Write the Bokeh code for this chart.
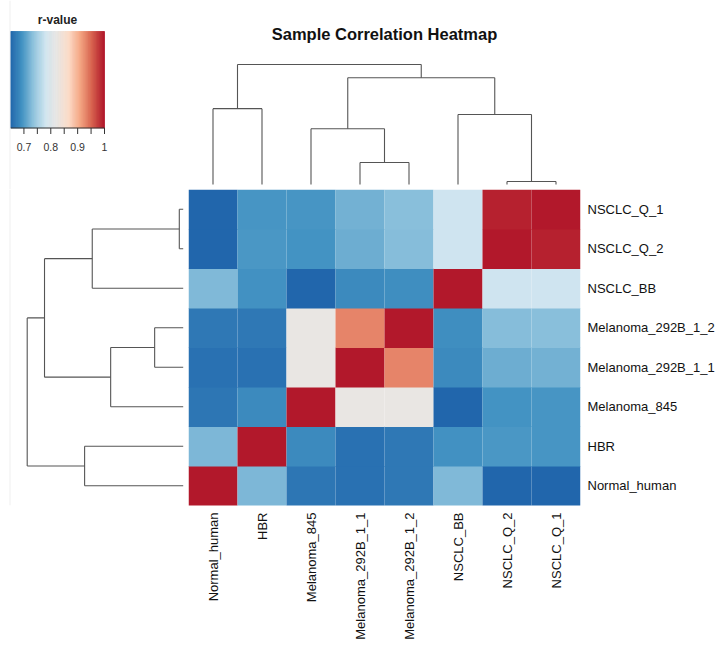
import numpy as np
from bokeh.plotting import figure
from bokeh.layouts import gridplot
from bokeh.models import Range1d, FactorRange, LinearColorMapper, ColumnDataSource
from bokeh.transform import transform
from bokeh.core.properties import value
from bokeh.embed import file_html
from bokeh.resources import INLINE

# ---------------- data ----------------
samples = ["Normal_human", "HBR", "Melanoma_845", "Melanoma_292B_1_1",
           "Melanoma_292B_1_2", "NSCLC_BB", "NSCLC_Q_2", "NSCLC_Q_1"]
# correlation (r) matrix, rows/cols in the order of `samples`
r_normal = [1.000, 0.726, 0.667, 0.661, 0.668, 0.728, 0.650, 0.650]
r_hbr    = [0.726, 1.000, 0.686, 0.661, 0.668, 0.693, 0.698, 0.697]
r_m845   = [0.667, 0.686, 1.000, 0.825, 0.825, 0.650, 0.694, 0.697]
r_m11    = [0.661, 0.661, 0.825, 1.000, 0.933, 0.686, 0.718, 0.721]
r_m12    = [0.668, 0.668, 0.825, 0.933, 1.000, 0.690, 0.732, 0.734]
r_bb     = [0.728, 0.693, 0.650, 0.686, 0.690, 1.000, 0.781, 0.781]
r_q2     = [0.650, 0.698, 0.694, 0.718, 0.732, 0.781, 1.000, 0.994]
r_q1     = [0.650, 0.697, 0.697, 0.721, 0.734, 0.781, 0.994, 1.000]
corr_rows = [r_normal, r_hbr, r_m845, r_m11, r_m12, r_bb, r_q2, r_q1]

col_order = ["Normal_human", "HBR", "Melanoma_845", "Melanoma_292B_1_1",
             "Melanoma_292B_1_2", "NSCLC_BB", "NSCLC_Q_2", "NSCLC_Q_1"]
row_order = ["NSCLC_Q_1", "NSCLC_Q_2", "NSCLC_BB", "Melanoma_292B_1_2",
             "Melanoma_292B_1_1", "Melanoma_845", "HBR", "Normal_human"]  # top -> bottom

# hierarchical clustering merges (left, right, height relative to root, name)
merge_left   = ["NSCLC_Q_1", "Melanoma_292B_1_1", "Melanoma_845", "NSCLC_BB", "Normal_human", "C", "E"]
merge_right  = ["NSCLC_Q_2", "Melanoma_292B_1_2", "B", "A", "HBR", "D", "F"]
merge_height = [0.025, 0.183, 0.465, 0.583, 0.632, 0.889, 1.000]
merge_name   = ["A", "B", "C", "D", "E", "F", "G"]

legend_low, legend_high = 0.65, 1.0
legend_ticks = [0.70, 0.75, 0.80, 0.85, 0.90, 0.95, 1.00]
legend_label_vals = [0.7, 0.8, 0.9, 1.0]
legend_labels = ["0.7", "0.8", "0.9", "1"]
anchors = ["#2166AC", "#4393C3", "#92C5DE", "#D1E5F0", "#E9E6E3",
           "#FDDBC7", "#F4A582", "#D6604D", "#B2182B"]

FONT = value("Liberation Sans")
LINE = "#555555"

# ---------------- palette ----------------
def hex2rgb(h):
    h = h.lstrip("#")
    return np.array([int(h[i:i + 2], 16) for i in (0, 2, 4)], dtype=float)

def ramp(cols, n):
    rgb = np.array([hex2rgb(c) for c in cols])
    t = np.linspace(0, len(cols) - 1, n)
    out = []
    for v in t:
        i = min(int(np.floor(v)), len(cols) - 2)
        f = v - i
        c = rgb[i] * (1 - f) + rgb[i + 1] * f
        out.append("#%02x%02x%02x" % tuple(int(round(x)) for x in c))
    return out

palette = ramp(anchors, 200)
mapper = LinearColorMapper(palette=palette, low=legend_low, high=legend_high)

# ---------------- dendrogram geometry ----------------
def dendro_segments(order_pos):
    pos = dict(order_pos)
    ht = {k: 0.0 for k in pos}
    p0, h0, p1, h1 = [], [], [], []
    for l, r, h, n in zip(merge_left, merge_right, merge_height, merge_name):
        for c in (l, r):
            p0.append(pos[c]); h0.append(ht[c]); p1.append(pos[c]); h1.append(h)
        p0.append(pos[l]); h0.append(h); p1.append(pos[r]); h1.append(h)
        pos[n] = (pos[l] + pos[r]) / 2.0
        ht[n] = h
    return p0, h0, p1, h1

# layout constants (pixels)
W, H = 722, 647
HM_X0, HM_W, HM_Y0, HM_H = 188, 392, 189, 316
RIGHT_PAD, BOT_PAD = W - HM_X0 - HM_W, H - HM_Y0 - HM_H
TOP_LEAF, TOP_ROOT = 184.0, 64.0
LEFT_LEAF, LEFT_ROOT = 182.7, 26.7
tscale = TOP_LEAF - TOP_ROOT
lscale = LEFT_LEAF - LEFT_ROOT

def base_fig(w, h, xr, yr, **kw):
    p = figure(width=w, height=h, x_range=xr, y_range=yr, output_backend="svg",
               toolbar_location=None, **kw)
    p.outline_line_color = None
    p.background_fill_color = "white"
    p.border_fill_color = "white"
    p.axis.visible = False
    p.grid.visible = False
    return p

# ---------------- legend ----------------
pxu = 94.0 / (legend_high - legend_low)
leg = base_fig(HM_X0, HM_Y0,
               Range1d(legend_low - 10 / pxu, legend_low + (HM_X0 - 10) / pxu),
               Range1d(HM_Y0, 0), min_border=0)
edges = np.linspace(legend_low, legend_high, len(palette) + 1)
leg.quad(left=edges[:-1], right=edges[1:], top=31, bottom=127.5,
         fill_color=palette, line_color=palette, line_width=0.6)
leg.segment(x0=[legend_low], y0=[127.5], x1=[legend_high], y1=[127.5],
            line_color="#333333", line_width=1)
leg.segment(x0=legend_ticks, y0=[127.5] * len(legend_ticks), x1=legend_ticks,
            y1=[133.5] * len(legend_ticks), line_color="#333333", line_width=1)
leg.text(x=legend_label_vals, y=[146] * len(legend_label_vals), text=legend_labels,
         text_font=FONT, text_font_size="10.5px", text_color="#333333",
         text_align="center", text_baseline="middle")
leg.text(x=[(legend_low + legend_high) / 2], y=[19], text=["r-value"],
         text_font=FONT, text_font_size="12px", text_font_style="bold",
         text_color="#222222", text_align="center", text_baseline="middle")
leg.segment(x0=[legend_low - 0.5 / pxu], y0=[0], x1=[legend_low - 0.5 / pxu], y1=[HM_Y0],
            line_color="#efefef", line_width=1)

# ---------------- top dendrogram (frame = heatmap columns) ----------------
top = base_fig(W - HM_X0, HM_Y0, Range1d(0, 8),
               Range1d((TOP_LEAF - HM_Y0) / tscale, TOP_LEAF / tscale),
               min_border_left=0, min_border_top=0, min_border_bottom=0,
               min_border_right=RIGHT_PAD)
cx0, ch0, cx1, ch1 = dendro_segments([(s, i + 0.5) for i, s in enumerate(col_order)])
top.segment(x0=cx0, y0=ch0, x1=cx1, y1=ch1, line_color=LINE, line_width=1.1)
top.text(x=[4.0], y=[(TOP_LEAF - 33.5) / tscale], text=["Sample Correlation Heatmap"],
         text_font=FONT, text_font_size="16.5px", text_font_style="bold",
         text_color="#111111", text_align="center", text_baseline="middle")

# ---------------- left dendrogram (frame = heatmap rows) ----------------
left = base_fig(HM_X0, H - HM_Y0,
                Range1d(LEFT_LEAF / lscale, (LEFT_LEAF - HM_X0) / lscale),
                Range1d(0, 8),
                min_border_left=0, min_border_top=0, min_border_right=0,
                min_border_bottom=BOT_PAD)
rp0, rh0, rp1, rh1 = dendro_segments([(s, (7 - i) + 0.5) for i, s in enumerate(row_order)])
left.segment(x0=rh0, y0=rp0, x1=rh1, y1=rp1, line_color=LINE, line_width=1.1)
xl = (LEFT_LEAF - 9.5) / lscale
left.segment(x0=[xl], y0=[0], x1=[xl], y1=[8], line_color="#efefef", line_width=1)

# ---------------- heatmap ----------------
xs, ys, rs = [], [], []
for i, a in enumerate(samples):
    for j, b in enumerate(samples):
        xs.append(b); ys.append(a); rs.append(corr_rows[i][j])
src = ColumnDataSource(dict(col=xs, row=ys, r=rs))

hm = figure(width=W - HM_X0, height=H - HM_Y0,
            x_range=FactorRange(factors=col_order),
            y_range=FactorRange(factors=list(reversed(row_order))),
            y_axis_location="right", output_backend="svg", toolbar_location=None,
            min_border_left=0, min_border_top=0,
            min_border_right=RIGHT_PAD, min_border_bottom=BOT_PAD)
hm.outline_line_color = None
hm.grid.visible = False
hm.rect(x="col", y="row", width=1, height=1, source=src, dilate=True,
        fill_color=transform("r", mapper), line_color=None)
for ax in (hm.xaxis[0], hm.yaxis[0]):
    ax.axis_line_color = None
    ax.major_tick_line_color = None
    ax.minor_tick_line_color = None
    ax.major_label_text_font = "Liberation Sans"
    ax.major_label_text_font_size = "13px"
    ax.major_label_text_color = "#111111"
    ax.major_label_standoff = 1
hm.xaxis[0].major_label_orientation = np.pi / 2

layout = gridplot([[leg, top], [left, hm]], toolbar_location=None)

open("out.html", "w").write(file_html(layout, INLINE))
